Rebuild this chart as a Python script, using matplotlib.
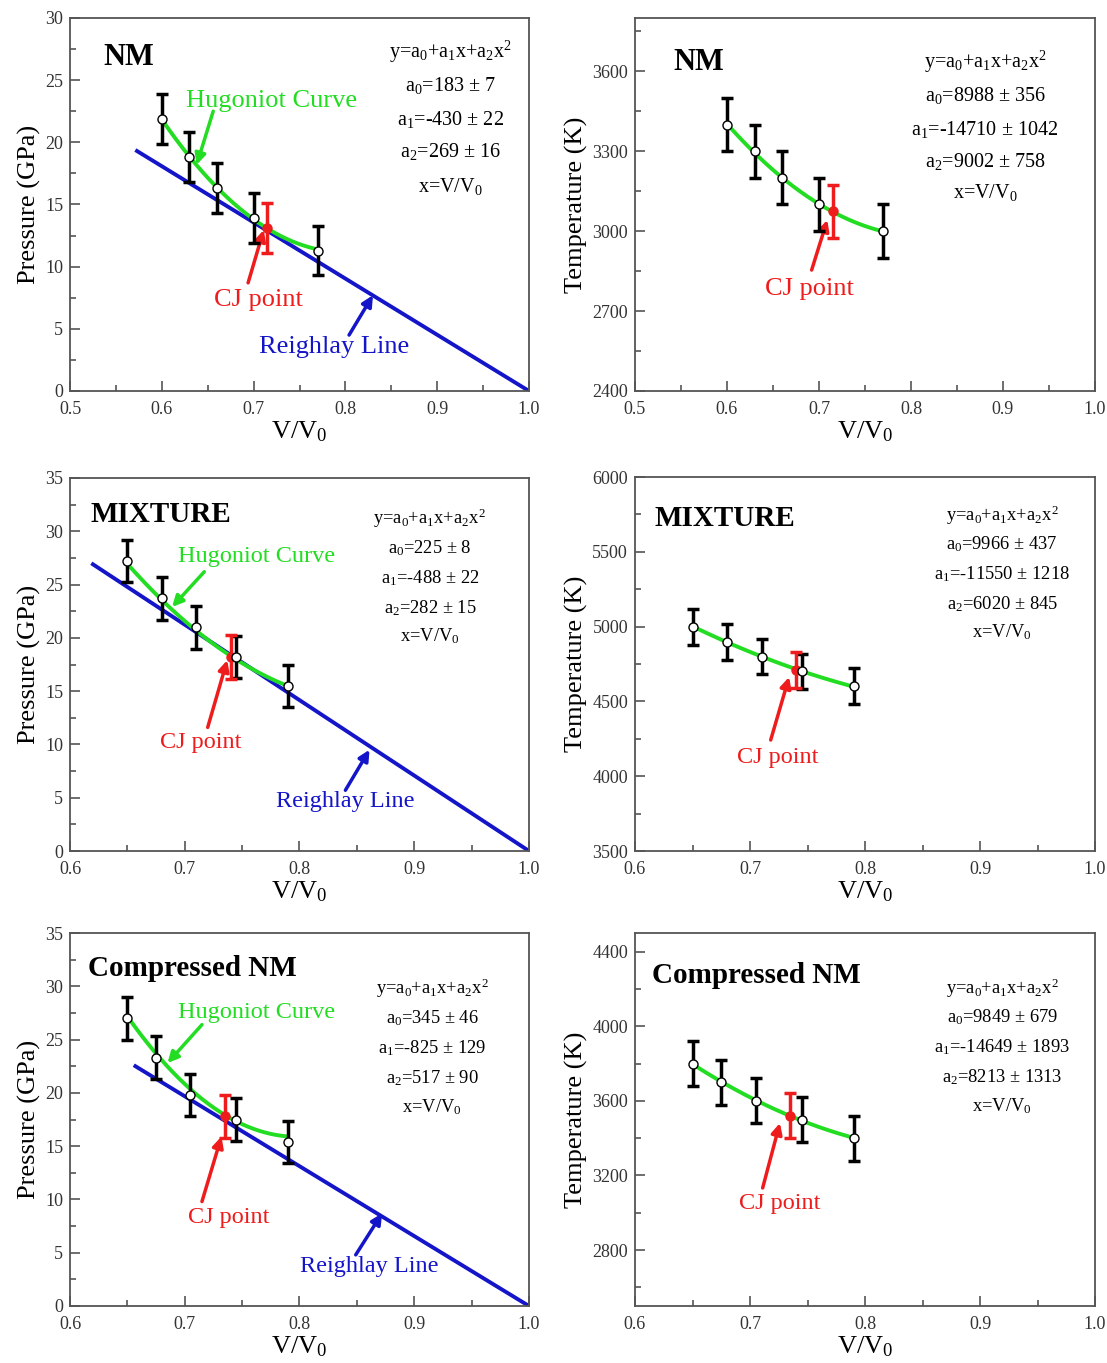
import numpy as np
import matplotlib
matplotlib.use('Agg')
import matplotlib.pyplot as plt
from matplotlib.ticker import MultipleLocator

plt.rcParams['font.family'] = ['Liberation Serif', 'DejaVu Serif']
plt.rcParams['mathtext.fontset'] = 'custom'
plt.rcParams['mathtext.rm'] = 'Liberation Serif'
plt.rcParams['mathtext.it'] = 'Liberation Serif:italic'
plt.rcParams['mathtext.bf'] = 'Liberation Serif:bold'

GREEN = '#22dd22'
BLUE = '#1414c8'
RED = '#ee1c1c'

# ---------------- data ----------------
# NM, pressure
nm_p_x = [0.60, 0.63, 0.66, 0.70, 0.77]
nm_p_y = [21.9, 18.8, 16.3, 13.9, 11.3]
nm_p_err = [2.0, 2.0, 2.0, 2.0, 2.0]
nm_p_cj = [0.715, 13.1, 2.0]
nm_p_coef = [183, -430, 269]
nm_p_coef_err = [7, 22, 16]
nm_p_ray_x = [0.573, 1.0]
nm_p_ray_y = [19.3, 0.0]

# NM, temperature
nm_t_x = [0.60, 0.63, 0.66, 0.70, 0.77]
nm_t_y = [3400, 3300, 3200, 3100, 3000]
nm_t_err = [100, 100, 100, 100, 100]
nm_t_cj = [0.715, 3075, 100]
nm_t_coef = [8988, -14710, 9002]
nm_t_coef_err = [356, 1042, 758]

# MIXTURE, pressure
mix_p_x = [0.65, 0.68, 0.71, 0.745, 0.79]
mix_p_y = [27.2, 23.7, 21.0, 18.2, 15.5]
mix_p_err = [2.0, 2.0, 2.0, 2.0, 2.0]
mix_p_cj = [0.74, 18.2, 2.05]
mix_p_coef = [225, -488, 282]
mix_p_coef_err = [8, 22, 15]
mix_p_ray_x = [0.62, 1.0]
mix_p_ray_y = [26.9, 0.0]

# MIXTURE, temperature
mix_t_x = [0.65, 0.68, 0.71, 0.745, 0.79]
mix_t_y = [5000, 4900, 4800, 4700, 4600]
mix_t_err = [120, 120, 120, 120, 120]
mix_t_cj = [0.74, 4710, 120]
mix_t_coef = [9966, -11550, 6020]
mix_t_coef_err = [437, 1218, 845]

# Compressed NM, pressure
cnm_p_x = [0.65, 0.675, 0.705, 0.745, 0.79]
cnm_p_y = [27.0, 23.3, 19.8, 17.5, 15.4]
cnm_p_err = [2.0, 2.0, 2.0, 2.0, 2.0]
cnm_p_cj = [0.735, 17.8, 2.0]
cnm_p_coef = [345, -825, 517]
cnm_p_coef_err = [46, 129, 90]
cnm_p_ray_x = [0.657, 1.0]
cnm_p_ray_y = [22.5, 0.0]

# Compressed NM, temperature
cnm_t_x = [0.65, 0.675, 0.705, 0.745, 0.79]
cnm_t_y = [3800, 3700, 3600, 3500, 3400]
cnm_t_err = [120, 120, 120, 120, 120]
cnm_t_cj = [0.735, 3520, 120]
cnm_t_coef = [9849, -14649, 8213]
cnm_t_coef_err = [679, 1893, 1313]

W, H = 1107, 1363


def rect(left, top, right, bottom):
    return [left / W, 1 - bottom / H, (right - left) / W, (bottom - top) / H]


def arrow(ax, tail, head, color):
    ax.annotate('', xy=head, xytext=tail,
                arrowprops=dict(arrowstyle='-|>', color=color, lw=2.5,
                                mutation_scale=16, shrinkA=0, shrinkB=0))


def panel(ax, x, y, err, cj, coef, coef_err, xlim, ylim, xmaj, ymaj, ymin,
          yticks, ylabel, title, title_pos, eq_x, eq_y, eq_fs, ray=None):
    ax.set_xlim(xlim)
    ax.set_ylim(ylim)

    if ray is not None:
        ax.plot(ray[0], ray[1], color=BLUE, lw=2.8, zorder=2)

    xs = np.linspace(x[0], x[-1], 200)
    ax.plot(xs, np.polyval(coef[::-1], xs), color=GREEN, lw=2.8, zorder=3)

    ax.errorbar(x, y, yerr=err, fmt='none', ecolor='black', elinewidth=2.5,
                capsize=4, capthick=2.5, zorder=4)
    ax.errorbar([cj[0]], [cj[1]], yerr=[cj[2]], fmt='o', color=RED,
                ms=6.5, elinewidth=2.5, capsize=4, capthick=2.5, zorder=5)
    ax.plot(x, y, 'o', mfc='white', mec='black', ms=6.5, mew=1.0, zorder=6)

    ax.set_xticks(np.arange(xlim[0], xlim[1] + 1e-9, xmaj))
    ax.set_xticklabels(['%.1f' % v for v in np.arange(xlim[0], xlim[1] + 1e-9, xmaj)])
    ax.xaxis.set_minor_locator(MultipleLocator(xmaj / 2))
    ax.set_yticks(yticks)
    ax.yaxis.set_minor_locator(MultipleLocator(ymin))
    ax.tick_params(which='both', direction='in', top=False, right=False,
                   labelsize=13, labelcolor='#333333', color='#555555')
    ax.tick_params(which='major', length=7, width=1.2)
    ax.tick_params(which='minor', length=4, width=1.2)
    ax.tick_params(axis='x', which='major', pad=7)
    ax.tick_params(axis='y', which='major', pad=5)
    for s in ax.spines.values():
        s.set_color('#555555')
        s.set_linewidth(1.3)

    ax.set_xlabel(r'$\mathregular{V/V_0}$', fontsize=19, labelpad=1)
    ax.set_ylabel(ylabel, fontsize=19, labelpad=3)

    ax.text(title_pos[0], title_pos[1], title[0], transform=ax.transAxes,
            fontsize=title[1], fontweight='bold', ha='left', va='center')

    lines = ['y=a$_0$+a$_1$x+a$_2$x$^2$',
             'a$_0$=%d ± %d' % (coef[0], coef_err[0]),
             'a$_1$=%d ± %d' % (coef[1], coef_err[1]),
             'a$_2$=%d ± %d' % (coef[2], coef_err[2]),
             'x=V/V$_0$']
    for s, yy in zip(lines, eq_y):
        ax.text(eq_x, yy, s, transform=ax.transAxes, fontsize=eq_fs,
                ha='center', va='center')


fig = plt.figure(figsize=(W / 100, H / 100), dpi=100)

# NM pressure
ax = fig.add_axes(rect(70, 18, 529, 391))
panel(ax, nm_p_x, nm_p_y, nm_p_err, nm_p_cj, nm_p_coef, nm_p_coef_err,
      (0.5, 1.0), (0, 30), 0.1, 5, 2.5, np.arange(0, 31, 5), 'Pressure (GPa)',
      ('NM', 22), (0.072, 0.895), 0.828, [0.909, 0.818, 0.729, 0.641, 0.547], 14.5,
      ray=(nm_p_ray_x, nm_p_ray_y))
ax.text(0.72, 23.3, 'Hugoniot Curve', color=GREEN, fontsize=19, ha='center', va='center')
arrow(ax, (0.656, 22.5), (0.638, 18.2), GREEN)
ax.text(0.705, 7.3, 'CJ point', color=RED, fontsize=19, ha='center', va='center')
arrow(ax, (0.694, 8.7), (0.711, 12.95), RED)
ax.text(0.788, 3.5, 'Reighlay Line', color=BLUE, fontsize=19, ha='center', va='center')
arrow(ax, (0.804, 4.5), (0.830, 7.7), BLUE)

# NM temperature
ax = fig.add_axes(rect(635, 18, 1095, 391))
panel(ax, nm_t_x, nm_t_y, nm_t_err, nm_t_cj, nm_t_coef, nm_t_coef_err,
      (0.5, 1.0), (2400, 3800), 0.1, 300, 150, np.arange(2400, 3601, 300), 'Temperature (K)',
      ('NM', 22), (0.083, 0.882), 0.761, [0.882, 0.791, 0.702, 0.614, 0.531], 14.5)
ax.text(0.690, 2783, 'CJ point', color=RED, fontsize=19, ha='center', va='center')
arrow(ax, (0.692, 2854), (0.709, 3042), RED)

# MIXTURE pressure
ax = fig.add_axes(rect(70, 478, 529, 851))
panel(ax, mix_p_x, mix_p_y, mix_p_err, mix_p_cj, mix_p_coef, mix_p_coef_err,
      (0.6, 1.0), (0, 35), 0.1, 5, 2.5, np.arange(0, 36, 5), 'Pressure (GPa)',
      ('MIXTURE', 21), (0.044, 0.901), 0.784, [0.893, 0.812, 0.732, 0.651, 0.576], 13.3,
      ray=(mix_p_ray_x, mix_p_ray_y))
ax.text(0.763, 27.6, 'Hugoniot Curve', color=GREEN, fontsize=17.5, ha='center', va='center')
arrow(ax, (0.717, 26.2), (0.689, 22.9), GREEN)
ax.text(0.714, 10.2, 'CJ point', color=RED, fontsize=17.5, ha='center', va='center')
arrow(ax, (0.720, 11.6), (0.737, 17.9), RED)
ax.text(0.840, 4.6, 'Reighlay Line', color=BLUE, fontsize=17.5, ha='center', va='center')
arrow(ax, (0.840, 5.7), (0.861, 9.5), BLUE)

# MIXTURE temperature
ax = fig.add_axes(rect(635, 477, 1095, 851))
panel(ax, mix_t_x, mix_t_y, mix_t_err, mix_t_cj, mix_t_coef, mix_t_coef_err,
      (0.6, 1.0), (3500, 6000), 0.1, 500, 250, np.arange(3500, 6001, 500), 'Temperature (K)',
      ('MIXTURE', 21), (0.043, 0.890), 0.798, [0.898, 0.820, 0.740, 0.660, 0.584], 13.3)
ax.text(0.724, 4128, 'CJ point', color=RED, fontsize=17.5, ha='center', va='center')
arrow(ax, (0.718, 4242), (0.734, 4663), RED)

# Compressed NM pressure
ax = fig.add_axes(rect(70, 933, 529, 1306))
panel(ax, cnm_p_x, cnm_p_y, cnm_p_err, cnm_p_cj, cnm_p_coef, cnm_p_coef_err,
      (0.6, 1.0), (0, 35), 0.1, 5, 2.5, np.arange(0, 36, 5), 'Pressure (GPa)',
      ('Compressed NM', 21), (0.039, 0.906), 0.789, [0.853, 0.772, 0.692, 0.611, 0.533], 13.3,
      ray=(cnm_p_ray_x, cnm_p_ray_y))
ax.text(0.763, 27.5, 'Hugoniot Curve', color=GREEN, fontsize=17.5, ha='center', va='center')
arrow(ax, (0.715, 26.4), (0.685, 22.8), GREEN)
ax.text(0.738, 8.3, 'CJ point', color=RED, fontsize=17.5, ha='center', va='center')
arrow(ax, (0.715, 9.8), (0.732, 15.9), RED)
ax.text(0.861, 3.7, 'Reighlay Line', color=BLUE, fontsize=17.5, ha='center', va='center')
arrow(ax, (0.849, 4.8), (0.872, 8.7), BLUE)

# Compressed NM temperature
ax = fig.add_axes(rect(635, 933, 1095, 1306))
panel(ax, cnm_t_x, cnm_t_y, cnm_t_err, cnm_t_cj, cnm_t_coef, cnm_t_coef_err,
      (0.6, 1.0), (2500, 4500), 0.1, 400, 200, np.arange(2800, 4401, 400), 'Temperature (K)',
      ('Compressed NM', 21), (0.037, 0.887), 0.798, [0.853, 0.775, 0.694, 0.614, 0.536], 13.3)
ax.text(0.726, 3047, 'CJ point', color=RED, fontsize=17.5, ha='center', va='center')
arrow(ax, (0.711, 3133), (0.726, 3481), RED)

fig.savefig('out.png', dpi=100)
